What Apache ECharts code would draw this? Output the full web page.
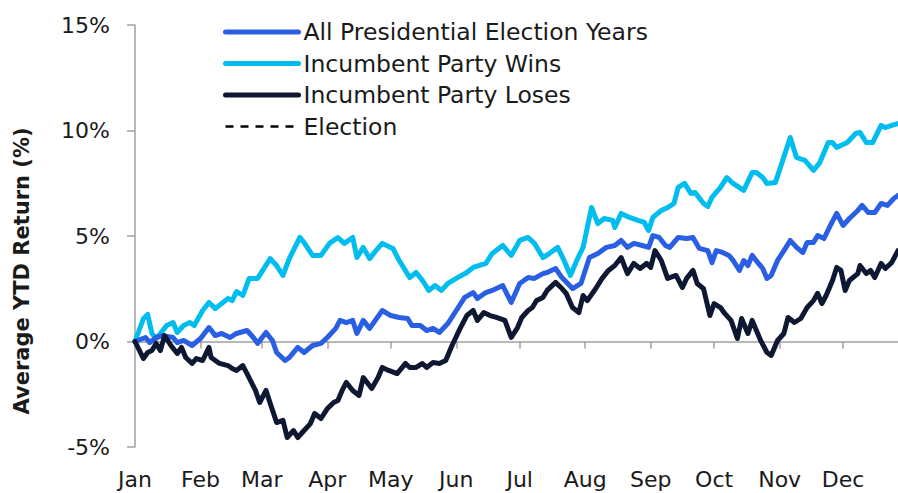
<!DOCTYPE html>
<html>
<head>
<meta charset="utf-8">
<script src="https://cdn.jsdelivr.net/npm/echarts@6/dist/echarts.min.js"></script>
<style>
html,body{margin:0;padding:0;background:#fff;}
#chart{width:898px;height:493px;}
</style>
</head>
<body>
<div id="chart"></div>
<script>
// Day of year (0 = Jan 1) and average YTD return (%)
const monthNames = ['Jan','Feb','Mar','Apr','May','Jun','Jul','Aug','Sep','Oct','Nov','Dec'];
const monthStarts = [0,31,60,91,121,152,182,213,244,274,305,335];
const yTicks = [-5,0,5,10,15];

const allYears = [[0,0],[5,0.19],[7,-0.05],[10,0.19],[13,0.28],[18,0.19],[20,-0.05],[23,0.05],[27,-0.19],[31,0.14],[35,0.66],[38,0.28],[41,0.38],[45,0.19],[48,0.38],[53,0.52],[56,0.19],[58,-0.09],[62,0.43],[65,0.05],[67,-0.52],[71,-0.9],[73,-0.76],[77,-0.28],[80,-0.52],[84,-0.19],[88,-0.09],[91,0.19],[95,0.62],[97,1.0],[100,0.9],[103,1.0],[105,0.38],[108,1.0],[111,0.62],[117,1.47],[121,1.23],[125,1.14],[129,1.09],[131,0.76],[135,0.76],[138,0.52],[141,0.62],[144,0.43],[148,0.85],[152,1.47],[156,2.09],[160,2.32],[162,2.04],[166,2.32],[169,2.42],[174,2.65],[178,1.85],[182,2.75],[186,3.03],[189,2.99],[193,3.22],[195,3.27],[199,3.46],[202,3.03],[207,2.51],[211,2.75],[215,3.98],[219,4.17],[223,4.46],[227,4.55],[230,4.79],[233,4.46],[236,4.65],[240,4.55],[243,4.46],[245,5.02],[248,4.93],[251,4.55],[253,4.46],[257,4.93],[261,4.88],[264,4.93],[267,4.41],[271,4.31],[273,3.74],[275,4.31],[278,4.22],[281,4.08],[283,3.84],[286,3.37],[288,3.84],[290,3.6],[292,4.08],[295,3.7],[297,3.46],[299,2.99],[301,3.13],[304,3.84],[308,4.46],[310,4.79],[313,4.46],[316,4.22],[318,4.69],[321,4.69],[323,5.02],[326,4.88],[329,5.5],[332,6.07],[335,5.5],[338,5.83],[342,6.21],[344,6.45],[347,6.11],[350,6.11],[353,6.54],[356,6.45],[359,6.78],[361,6.92]];

const incumbentWins = [[0,0],[4,1.09],[6,1.28],[8,0.38],[10,0.14],[12,0.38],[15,0.76],[18,0.9],[20,0.43],[23,0.76],[26,0.9],[28,0.76],[32,1.47],[35,1.85],[38,1.56],[44,2.04],[46,1.94],[48,2.37],[51,2.18],[54,2.99],[58,2.99],[64,3.93],[67,3.6],[70,3.13],[73,3.93],[78,4.93],[80,4.69],[84,4.08],[88,4.08],[92,4.65],[96,4.93],[99,4.65],[103,4.93],[105,3.98],[108,4.46],[111,3.93],[114,4.31],[117,4.65],[122,4.41],[125,3.84],[130,3.03],[133,3.27],[136,2.89],[139,2.42],[142,2.65],[145,2.42],[148,2.75],[152,2.99],[157,3.27],[160,3.51],[166,3.7],[169,4.17],[174,4.55],[178,4.08],[182,4.79],[186,4.93],[189,4.65],[193,3.98],[196,4.17],[200,4.46],[203,3.84],[206,3.13],[209,3.84],[212,4.46],[216,6.35],[219,5.59],[222,5.83],[226,5.74],[227,5.4],[230,6.07],[234,5.88],[238,5.74],[241,5.64],[243,5.26],[245,5.88],[249,6.21],[252,6.35],[255,6.54],[257,7.3],[260,7.49],[263,7.02],[265,7.06],[269,6.54],[271,6.4],[273,6.83],[277,7.3],[280,7.77],[283,7.49],[288,7.16],[292,8.01],[294,8.01],[297,7.77],[299,7.49],[303,7.54],[306,8.44],[310,9.67],[313,8.72],[317,8.58],[321,8.11],[324,8.48],[328,9.43],[330,9.43],[332,9.2],[337,9.43],[341,9.86],[343,9.91],[346,9.43],[349,9.43],[353,10.24],[355,10.14],[358,10.24],[361,10.33]];

const incumbentLoses = [[0,0],[4,-0.81],[6,-0.52],[8,-0.43],[10,-0.09],[12,-0.43],[14,0.28],[17,-0.19],[20,-0.57],[22,-0.28],[24,-0.76],[27,-1.04],[29,-0.81],[32,-0.9],[35,-0.28],[36,-0.76],[40,-1.04],[44,-1.14],[46,-1.28],[48,-1.37],[51,-1.14],[53,-1.52],[57,-2.32],[59,-2.89],[62,-2.32],[64,-2.94],[67,-3.84],[70,-3.74],[72,-4.55],[75,-4.22],[77,-4.55],[80,-4.22],[83,-3.89],[85,-3.41],[88,-3.65],[91,-3.18],[94,-2.89],[96,-2.8],[98,-2.32],[100,-1.94],[103,-2.32],[106,-2.56],[108,-1.71],[112,-2.23],[115,-1.71],[117,-1.23],[120,-1.37],[124,-1.52],[128,-1.04],[130,-1.23],[133,-1.23],[136,-1.04],[138,-1.23],[141,-1.0],[144,-1.04],[147,-0.9],[150,-0.19],[154,0.66],[157,1.23],[160,1.47],[162,1.0],[165,1.37],[168,1.23],[171,1.14],[175,1.0],[178,0.19],[181,0.66],[183,1.14],[186,1.47],[188,1.61],[190,1.94],[193,2.09],[195,2.42],[199,2.8],[202,2.51],[204,2.28],[207,1.61],[210,1.37],[212,2.18],[214,1.94],[218,2.51],[221,2.99],[224,3.37],[227,3.6],[230,3.98],[233,3.22],[236,3.7],[239,3.46],[242,3.7],[244,3.51],[246,4.31],[249,3.84],[252,2.99],[256,3.13],[259,2.56],[261,2.99],[264,3.37],[266,2.75],[269,2.5],[272,1.23],[274,1.8],[277,1.61],[279,1.33],[282,1.0],[285,0.14],[287,1.09],[290,0.38],[292,1.0],[296,0.05],[299,-0.52],[301,-0.66],[304,0.05],[307,0.38],[309,1.14],[312,0.9],[315,1.09],[318,1.61],[321,1.94],[323,2.28],[325,1.8],[327,2.18],[330,2.89],[332,3.51],[334,3.37],[336,2.42],[338,2.89],[342,3.22],[343,3.6],[346,3.22],[348,3.37],[350,3.03],[353,3.7],[355,3.46],[358,3.74],[361,4.31]];

const election = [];

const FONT = '"DejaVu Sans", sans-serif';
const TXT = '#1a1a1a';
const AX = '#a0a0a0';

const chart = echarts.init(document.getElementById('chart'), null, {renderer: 'svg'});

function lineSeries(name, data, color, width, dash) {
  const ls = {color: color, width: width, cap: 'round', join: 'round'};
  if (dash) { ls.type = dash; ls.cap = 'butt'; }
  return {
    name: name, type: 'line', data: data, showSymbol: false, symbol: 'none',
    lineStyle: ls,
    itemStyle: {color: color},
    emphasis: {disabled: true},
    animation: false
  };
}

chart.setOption({
  animation: false,
  backgroundColor: '#fff',
  grid: {left: 135, right: 0, top: 25, bottom: 46, containLabel: false},
  legend: {
    orient: 'vertical', left: 223, top: 20, padding: 0,
    itemWidth: 73, itemHeight: 24, itemGap: 7.5,
    itemStyle: {opacity: 0},
    lineStyle: {width: 5, cap: 'round'},
    textStyle: {fontFamily: FONT, fontSize: 23.5, color: TXT, lineHeight: 24},
    data: [
      {name: 'All Presidential Election Years'},
      {name: 'Incumbent Party Wins'},
      {name: 'Incumbent Party Loses'},
      {name: 'Election', lineStyle: {width: 2.5, type: [8, 7], cap: 'butt'}}
    ]
  },
  xAxis: [{
    type: 'value', min: 0, max: 361,
    axisLine: {show: true, onZero: true, lineStyle: {color: AX, width: 1.5}},
    axisTick: {show: true, length: 7, lineStyle: {color: AX, width: 1.5},
      customValues: monthStarts.slice(1)},
    axisLabel: {show: false},
    splitLine: {show: false}
  }, {
    type: 'value', min: 0, max: 361, position: 'bottom',
    axisLine: {show: false, onZero: false},
    axisTick: {show: false},
    splitLine: {show: false},
    axisLabel: {
      show: true, margin: 21, fontFamily: FONT, fontSize: 22, color: TXT,
      customValues: monthStarts,
      formatter: function (v) { const i = monthStarts.indexOf(Math.round(v)); return i >= 0 ? monthNames[i] : ''; }
    }
  }],
  yAxis: {
    type: 'value', min: yTicks[0], max: yTicks[yTicks.length - 1], interval: 5,
    axisLine: {show: true, lineStyle: {color: AX, width: 1.5}},
    axisTick: {show: true, length: 8, lineStyle: {color: AX, width: 1.5}},
    axisLabel: {margin: 25, fontFamily: FONT, fontSize: 22, color: TXT, formatter: '{value}%'},
    splitLine: {show: false}
  },
  graphic: [{
    type: 'text', x: 22, y: 271, rotation: Math.PI / 2,
    style: {text: 'Average YTD Return (%)', fontFamily: FONT, fontSize: 21, fontWeight: 'bold',
      fill: TXT, textAlign: 'center', textVerticalAlign: 'middle'}
  }],
  series: [
    lineSeries('Incumbent Party Wins', incumbentWins, '#00BDF0', 5),
    lineSeries('All Presidential Election Years', allYears, '#2A5FE4', 5),
    lineSeries('Incumbent Party Loses', incumbentLoses, '#0E1833', 5),
    lineSeries('Election', election, '#000000', 2.5, [8, 7])
  ]
});
</script>
</body>
</html>
